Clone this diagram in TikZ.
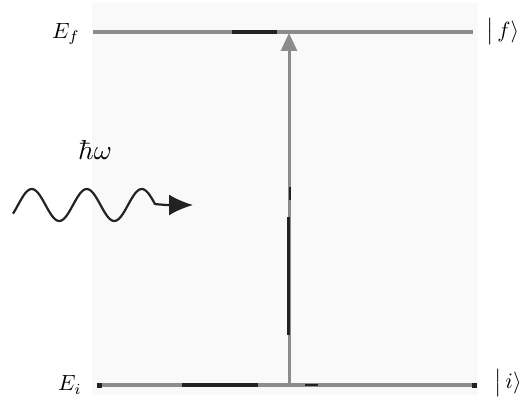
\documentclass[tikz,border=0pt]{standalone}
\usetikzlibrary{arrows.meta}
\definecolor{lvgray}{HTML}{8C8C8C}
\definecolor{lvdark}{HTML}{222222}
\tikzset{
  level/.style={draw=lvgray, line width=4pt},
  leveldark/.style={draw=lvdark, line width=4pt},
  lbl/.style={inner sep=0pt, scale=2.2},
  trans/.style={draw=lvgray, line width=3pt, -{Triangle[length=18pt,width=16pt]}},
  transdark/.style={draw=lvdark, line width=3pt},
  photon/.style={draw=lvdark, line width=2.2pt, line join=round, -{Latex[length=24pt,width=21pt]}}
}
\begin{document}
\begin{tikzpicture}[x=1pt,y=-1pt]
\useasboundingbox (0,0) rectangle (523,404);
\fill[black!2.5] (92,3) rectangle (478,395);
% levels
\coordinate (fL) at (93,32);
\coordinate (fR) at (473,32);
\coordinate (iL) at (97,385);
\coordinate (iR) at (477,385);
\coordinate (fD1) at (232,32);
\coordinate (fD2) at (277,32);
\coordinate (iD1) at (182,385);
\coordinate (iD2) at (258,385);
\coordinate (iD3) at (305,385);
\coordinate (iD4) at (318,385);
\draw[level] (fL) -- (fR);
\draw[leveldark] (fD1) -- (fD2);
\draw[level] (iL) -- (iR);
\draw[leveldark] (iD1) -- (iD2);
\draw[draw=lvdark, line width=2pt] (iD3) -- (iD4);
\fill[lvdark] (iL) ++(0,-2.5) rectangle ++(5,5);
\fill[lvdark] (iR) ++(-5,-2.5) rectangle ++(5,5);
% transition
\coordinate (tB) at (289,384);
\coordinate (tT) at (289,33);
\coordinate (tK1) at (288,217);
\coordinate (tK2) at (288,335);
\draw[trans] (tB) -- (tT);
\draw[transdark] (tK1) -- (tK2);
\draw[draw=lvdark, line width=1.5pt] (290,187) -- (290,200);
% labels
\node[lbl] (Ef) at (66,34) {$E_f$};
\node[lbl] (Ei) at (70,385) {$E_i$};
\node[lbl, anchor=west] (kf) at (486,32) {$\big|\,f\rangle$};
\node[lbl, anchor=west] (ki) at (494,383) {$\big|\,i\rangle$};
\node[lbl, scale=1.25] (hw) at (95,150) {$\hbar\omega$};
% photon
\coordinate (wTip) at (193,205);
\draw[photon] plot[domain=13:155, samples=80, smooth] (\x,{205-16*sin(6.545*(\x-18))}) -- (166,205) -- (wTip);
\end{tikzpicture}
\end{document}
